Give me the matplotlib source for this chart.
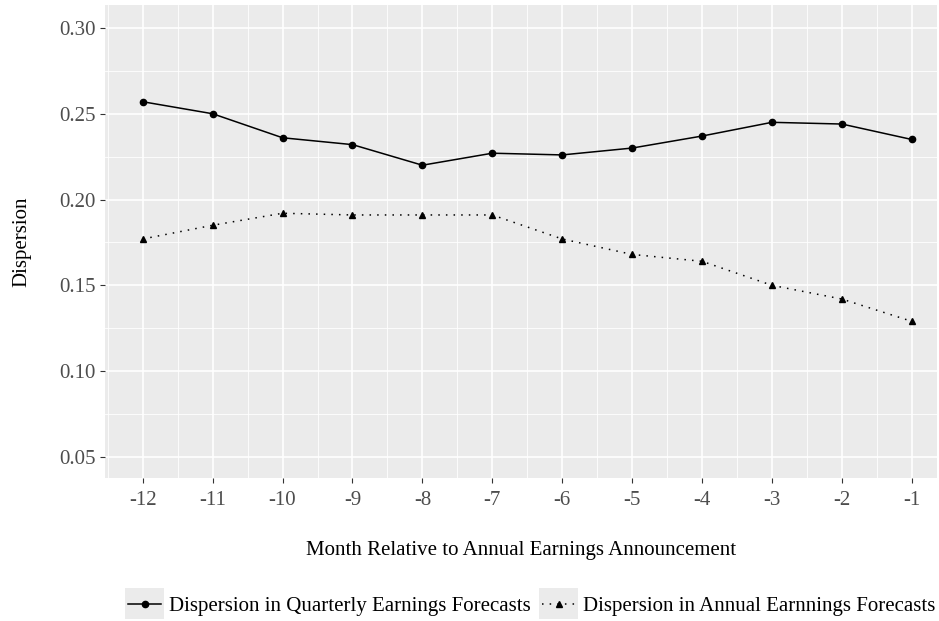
import matplotlib
matplotlib.use("Agg")
import matplotlib.pyplot as plt
from matplotlib.legend_handler import HandlerLine2D
from matplotlib.patches import Rectangle
from matplotlib.lines import Line2D

months = [-12, -11, -10, -9, -8, -7, -6, -5, -4, -3, -2, -1]
quarterly = [0.257, 0.250, 0.236, 0.232, 0.220, 0.227, 0.226, 0.230, 0.237, 0.245, 0.244, 0.235]
annual = [0.177, 0.185, 0.192, 0.191, 0.191, 0.191, 0.177, 0.168, 0.164, 0.150, 0.142, 0.129]
y_ticks = [0.05, 0.10, 0.15, 0.20, 0.25, 0.30]
y_minor = [0.075, 0.125, 0.175, 0.225, 0.275]
x_minor = [m + 0.5 for m in months[:-1]] + [-12.5]

plt.rcParams['font.family'] = ['Liberation Serif', 'DejaVu Serif']
plt.rcParams['axes.unicode_minus'] = False


class KeyHandler(HandlerLine2D):
    # grey key background like ggplot legends
    def create_artists(self, legend, orig_handle, xdescent, ydescent, width, height, fontsize, trans):
        bg = Rectangle((-xdescent - 2, -ydescent - 6), width + 4, height + 12,
                       facecolor='#ebebeb', edgecolor='none', transform=trans)
        arts = super().create_artists(legend, orig_handle, xdescent, ydescent, width, height, fontsize, trans)
        return [bg] + arts


fig = plt.figure(figsize=(9.39, 6.21), dpi=100)
ax = fig.add_axes([0.1118, 0.2303, 0.886, 0.7617])
ax.set_facecolor('#ebebeb')
for s in ax.spines.values():
    s.set_visible(False)

for y in y_minor:
    ax.axhline(y, color='white', lw=0.6, zorder=0)
for x in x_minor:
    ax.axvline(x, color='white', lw=0.6, zorder=0)
for y in y_ticks:
    ax.axhline(y, color='white', lw=1.2, zorder=0)
for x in months:
    ax.axvline(x, color='white', lw=1.2, zorder=0)

ax.plot(months, quarterly, color='black', lw=1.1, marker='o', markersize=4.5,
        label='Dispersion in Quarterly Earnings Forecasts')
ax.plot(months, annual, color='black', lw=1.1, linestyle=(0, (1, 4)), marker='^', markersize=5,
        label='Dispersion in Annual Earnnings Forecasts')

ax.set_xlim(-12.54, -0.64)
ax.set_ylim(0.0377, 0.3134)
ax.set_xticks(months)
ax.set_xticklabels([str(m) for m in months])
ax.set_yticks(y_ticks)
ax.set_yticklabels(['%.2f' % v for v in y_ticks])
ax.tick_params(axis='both', colors='#333333', length=3.5, width=0.8, labelsize=15, labelcolor='#4d4d4d')
ax.tick_params(axis='x', pad=6)
ax.tick_params(axis='y', pad=3)

ax.set_xlabel('Month Relative to Annual Earnings Announcement', fontsize=15, labelpad=22)
ax.set_ylabel('Dispersion', fontsize=15, labelpad=20)

handles, labels = ax.get_legend_handles_labels()
fig.legend(handles, labels, loc='center', bbox_to_anchor=(0.566, 0.024), ncol=2, frameon=False,
           fontsize=15, handlelength=1.6, handletextpad=0.35, columnspacing=0.55,
           handler_map={Line2D: KeyHandler()})

fig.savefig('out.png', dpi=100)
